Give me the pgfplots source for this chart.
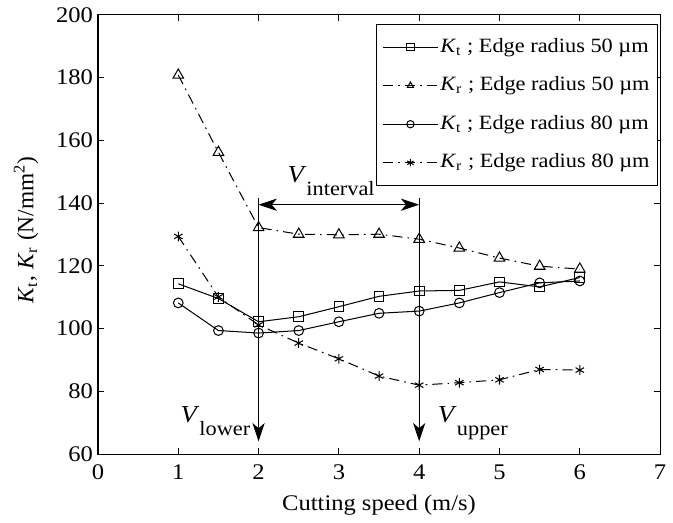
\documentclass[border=0pt]{standalone}
\usepackage{pgfplots}
\pgfplotsset{compat=1.18}
\usepackage{fontspec}
\setmainfont{Liberation Serif}[FakeStretch=1.1]
\newfontfamily\ylfont{Liberation Serif}
\usetikzlibrary{arrows.meta}
\newcommand{\Kt}{\textit{K}\textsubscript{t}}
\newcommand{\Kr}{\textit{K}\textsubscript{r}}
\newcommand{\VV}[1]{{\fontsize{12}{12}\selectfont\textit{V}}\raisebox{-6.5pt}{\fontsize{10}{12}\selectfont #1}}
\tikzset{myarr/.tip={Stealth[length=9pt,width=6pt,inset=2.5pt]}}
\begin{document}
\begin{tikzpicture}
\begin{axis}[
  scale only axis, width=277pt, height=216.5pt,
  clip=false,
  xmin=0, xmax=7, ymin=60, ymax=200,
  xtick={0,1,...,7}, ytick={60,80,...,200},
  tick align=inside, tick pos=both,
  major tick length=3pt,
  axis line style={line width=0.6pt},
  tick style={line width=0.5pt, black},
  font=\fontsize{11}{13}\selectfont,
  /pgf/number format/assume math mode=true,
  xticklabel style={yshift=-1.5pt},
  yticklabel style={xshift=1pt},
  xlabel={Cutting speed (m/s)},
  ylabel={\ylfont\fontsize{11.5}{13}\selectfont\Kt, \Kr\ (N/mm\textsuperscript{2})},
  xlabel style={at={(rel axis cs:0.5,-0.128)}, anchor=base},
  ylabel style={at={(rel axis cs:-0.128,0.51)}, anchor=center},
  legend style={at={(rel axis cs:0.9965,0.9797)}, anchor=north east, draw=black, line width=0.5pt,
    font=\fontsize{10}{12}\selectfont, row sep=0pt, inner xsep=3pt, inner ysep=1.75pt,
    nodes={inner ysep=2pt, inner xsep=1pt, text height=10pt, text depth=5pt},
    cells={anchor=west}},
  legend image code/.code={\draw[#1, mark size=1.8pt, mark repeat=2, mark phase=2] plot coordinates {(0pt,0pt) (13.5pt,0pt) (27pt,0pt)};},
  every axis plot/.append style={black, line width=0.5pt, mark size=2.4pt, mark options={solid, fill=none}},
]
\addplot[solid, mark=square] coordinates {(1,114.3) (1.5,109.6) (2,102.2) (2.5,103.8) (3,107) (3.5,110.3) (4,112) (4.5,112.2) (5,114.9) (5.5,113.3) (6,116.3)};
\addlegendentry{\Kt\ ; Edge radius 50 \textmu m}
\addplot[dash pattern=on 5pt off 2.5pt on 0.8pt off 2.5pt, mark=triangle, mark size=3pt] coordinates {(1,180.8) (1.5,156.2) (2,132.2) (2.5,130.1) (3,129.9) (3.5,130.1) (4,128.5) (4.5,125.7) (5,122.5) (5.5,119.9) (6,119.0)};
\addlegendentry{\Kr\ ; Edge radius 50 \textmu m}
\addplot[solid, mark=o] coordinates {(1,108.2) (1.5,99.4) (2,98.6) (2.5,99.4) (3,102.2) (3.5,104.9) (4,105.6) (4.5,108.2) (5,111.5) (5.5,114.6) (6,115.2)};
\addlegendentry{\Kt\ ; Edge radius 80 \textmu m}
\addplot[dash pattern=on 5pt off 2.5pt on 0.8pt off 2.5pt, mark=asterisk] coordinates {(1,129.4) (1.5,110.1) (2,101.2) (2.5,95.4) (3,90.4) (3.5,84.9) (4,82.0) (4.5,82.8) (5,83.7) (5.5,87.0) (6,86.8)};
\addlegendentry{\Kr\ ; Edge radius 80 \textmu m}
\draw[line width=0.5pt, -myarr] (axis cs:2,141.7) -- (axis cs:2,64.1);
\draw[line width=0.5pt, -myarr] (axis cs:4,141.7) -- (axis cs:4,64.1);
\draw[line width=0.5pt, myarr-myarr] (axis cs:2,139.5) -- (axis cs:4,139.5);
\node[anchor=base west, inner sep=0pt] at (axis cs:2.355,146.6) {\VV{interval}};
\node[anchor=base west, inner sep=0pt] at (axis cs:1.023,70.1) {\VV{lower}};
\node[anchor=base west, inner sep=0pt] at (axis cs:4.229,70.1) {\VV{upper}};
\path (rel axis cs:-0.1743,-0.1486) rectangle (rel axis cs:1.0106,1.0338);
\end{axis}
\end{tikzpicture}
\end{document}
